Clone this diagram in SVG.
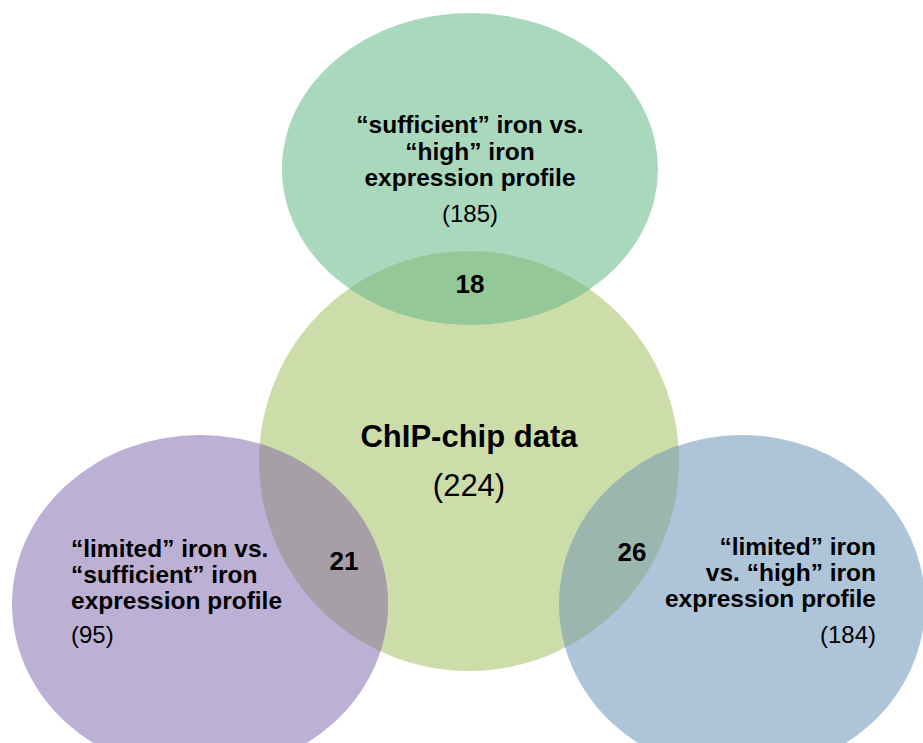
<svg xmlns="http://www.w3.org/2000/svg" width="923" height="743" viewBox="0 0 923 743">
<style>
text{font-family:"Liberation Sans",Arial,Helvetica,sans-serif;fill:#000}
.b{font-weight:bold;font-size:24.5px}
.n{font-size:24px}
.num{font-weight:bold;font-size:26px}
.mid{text-anchor:middle}
.end{text-anchor:end}
</style>
<defs>
<clipPath id="cCenter"><circle cx="469" cy="461" r="210"/></clipPath>
</defs>
<rect width="923" height="743" fill="#ffffff"/>
<g id="chip">
<circle cx="469" cy="461" r="210" fill="#cddda9"/>
</g>
<g id="top">
<ellipse cx="470" cy="169" rx="188" ry="156" fill="#a9d8bd"/>
<ellipse cx="470" cy="169" rx="188" ry="156" fill="#95c898" clip-path="url(#cCenter)"/>
</g>
<g id="left">
<ellipse cx="200" cy="604" rx="188" ry="169" fill="#bcb1d4"/>
<ellipse cx="200" cy="604" rx="188" ry="169" fill="#a69fa8" clip-path="url(#cCenter)"/>
</g>
<g id="right">
<ellipse cx="742" cy="604" rx="183" ry="169" fill="#aec4d8"/>
<ellipse cx="742" cy="604" rx="183" ry="169" fill="#9bb6ae" clip-path="url(#cCenter)"/>
</g>
<g id="connectors"></g>
<g id="top-label">
<text class="b mid" x="470" y="133">“sufficient” iron vs.</text>
<text class="b mid" x="470" y="160">“high” iron</text>
<text class="b mid" x="470" y="186">expression profile</text>
<text class="n mid" x="470" y="222">(185)</text>
</g>
<g id="chip-label">
<text class="mid" x="469" y="447" style="font-weight:bold;font-size:31px">ChIP-chip data</text>
<text class="mid" x="469" y="496" style="font-size:31px">(224)</text>
</g>
<g id="left-label">
<text class="b" x="71" y="557">“limited” iron vs.</text>
<text class="b" x="71" y="583">“sufficient” iron</text>
<text class="b" x="71" y="609">expression profile</text>
<text class="n" x="71" y="643">(95)</text>
</g>
<g id="right-label">
<text class="b end" x="876" y="555">“limited” iron</text>
<text class="b end" x="876" y="581">vs. “high” iron</text>
<text class="b end" x="876" y="607">expression profile</text>
<text class="n end" x="876" y="643">(184)</text>
</g>
<g id="overlaps">
<text class="num mid" x="470" y="293">18</text>
<text class="num mid" x="344" y="570">21</text>
<text class="num mid" x="632" y="561">26</text>
</g>
</svg>
